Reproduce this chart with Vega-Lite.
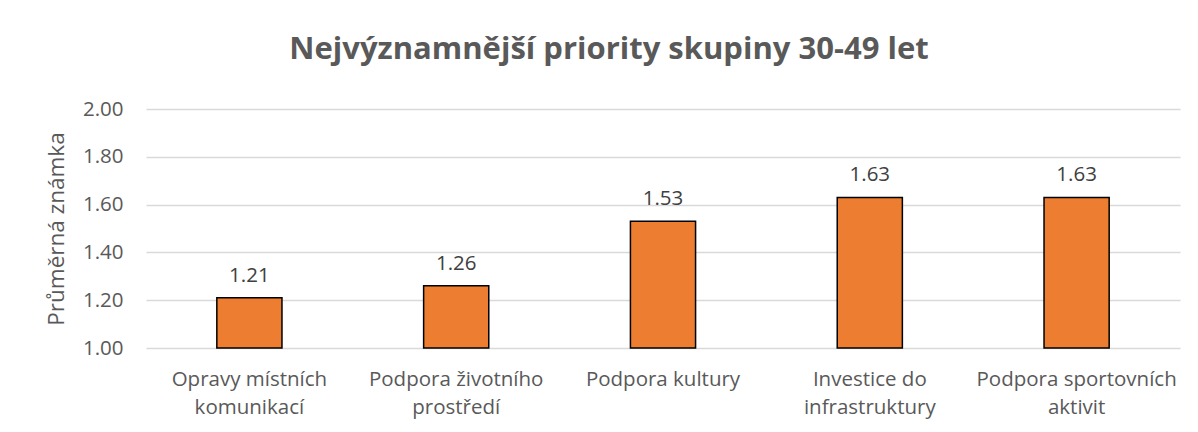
{
  "$schema": "https://vega.github.io/schema/vega-lite/v6.json",
  "autosize": {"type": "none"},
  "width": 1034,
  "height": 239,
  "padding": {"left": 146, "top": 109, "right": 18, "bottom": 84},
  "background": "white",
  "title": {
    "text": "Nejvýznamnější priority skupiny 30-49 let",
    "font": "Open Sans",
    "fontSize": 31,
    "fontWeight": "bold",
    "color": "#595959",
    "anchor": "middle",
    "frame": "group",
    "dx": -54,
    "offset": 33
  },
  "data": {
    "values": [
      {"kategorie": "Opravy místních|komunikací", "znamka": 1.21},
      {"kategorie": "Podpora životního|prostředí", "znamka": 1.26},
      {"kategorie": "Podpora kultury", "znamka": 1.53},
      {"kategorie": "Investice do|infrastruktury", "znamka": 1.63},
      {"kategorie": "Podpora sportovních|aktivit", "znamka": 1.63}
    ]
  },
  "encoding": {
    "x": {
      "field": "kategorie",
      "type": "nominal",
      "sort": null,
      "scale": {"paddingInner": 0.685, "paddingOuter": 0.3425},
      "axis": {
        "title": null,
        "labelAngle": 0,
        "labelExpr": "split(datum.value, '|')",
        "labelFont": "Open Sans",
        "labelFontSize": 20.5,
        "labelColor": "#595959",
        "labelLineHeight": 28,
        "labelPadding": 21,
        "labelLimit": 0,
        "ticks": false,
        "domain": false
      }
    }
  },
  "layer": [
    {
      "mark": {"type": "bar", "color": "#ED7D31", "stroke": "#000000", "strokeWidth": 1.5},
      "encoding": {
        "y": {
          "field": "znamka",
          "type": "quantitative",
          "scale": {"domain": [1, 2], "zero": false, "nice": false},
          "axis": {
            "title": "Průměrná známka",
            "titleFont": "Open Sans",
            "titleFontSize": 22.5,
            "titleFontWeight": "normal",
            "titleColor": "#595959",
            "titlePadding": 14,
            "values": [1, 1.2, 1.4, 1.6, 1.8, 2],
            "format": ".2f",
            "labelFont": "Open Sans",
            "labelFontSize": 20.5,
            "labelColor": "#595959",
            "labelPadding": 23,
            "ticks": false,
            "domain": false,
            "grid": true,
            "gridColor": "#d9d9d9",
            "gridWidth": 1.5
          }
        },
        "y2": {"datum": 1}
      }
    },
    {
      "mark": {"type": "text", "baseline": "bottom", "dy": -12, "font": "Open Sans", "fontSize": 20.5, "color": "#404040"},
      "encoding": {
        "y": {"field": "znamka", "type": "quantitative"},
        "text": {"field": "znamka", "type": "quantitative", "format": ".2f"}
      }
    }
  ],
  "config": {"view": {"stroke": null}}
}
